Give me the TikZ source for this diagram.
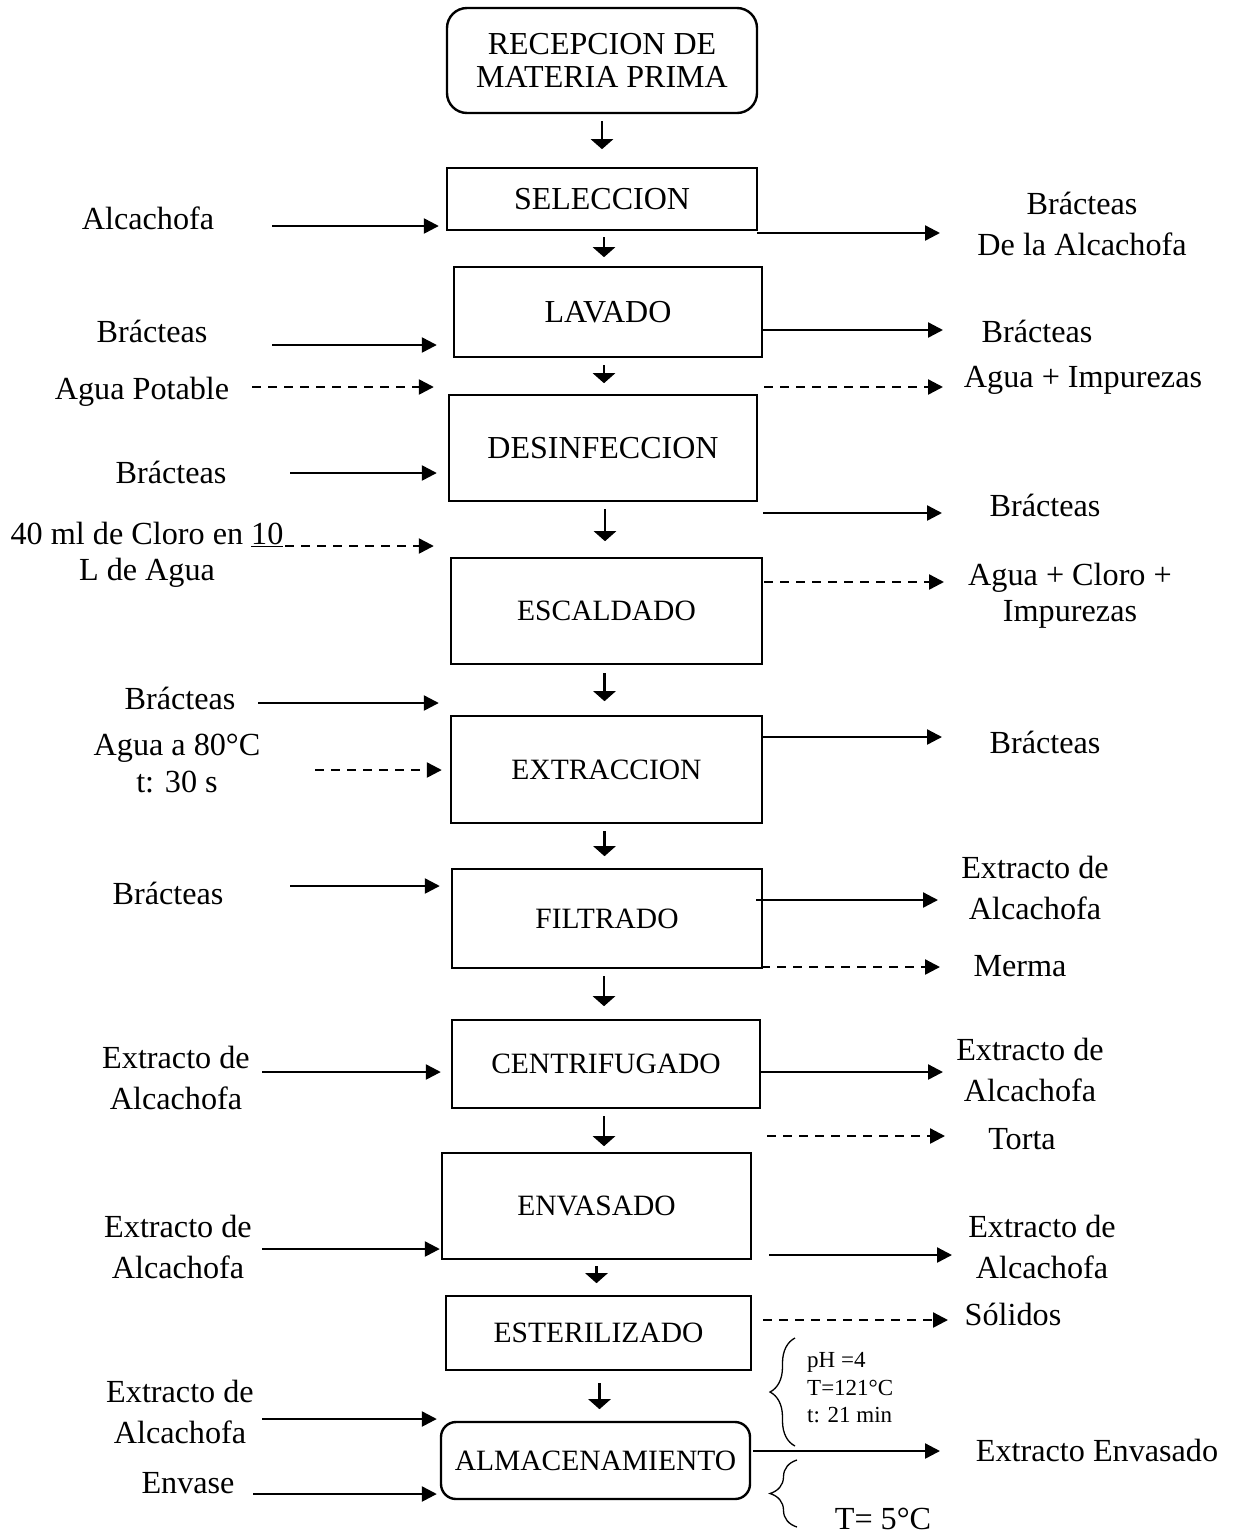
\documentclass[tikz,border=0pt]{standalone}
\usepackage{fontspec}
\setmainfont{Liberation Serif}
\usetikzlibrary{arrows.meta,decorations.pathreplacing}

\begin{document}
\begin{tikzpicture}[x=1pt,y=-1pt,
  box/.style={draw,line width=2.4pt,inner sep=0pt,align=center,
    font=\fontsize{29.5}{33}\selectfont},
  bigbox/.style={box,font=\fontsize{32}{33}\selectfont},
  lbl/.style={inner sep=0pt,align=center,font=\fontsize{32.2}{38}\selectfont},
  lblB/.style={lbl,font=\fontsize{32.2}{41}\selectfont},
  note/.style={inner sep=0pt,align=left,anchor=west,font=\fontsize{23}{27.5}\selectfont},
  arr/.style={line width=2.4pt,-{Triangle[length=15pt,width=15pt]}},
  darr/.style={arr,dash pattern=on 9pt off 7pt},
  dn/.style={line width=2.8pt,-{Triangle[length=10pt,width=22pt]}},
  brc/.style={line width=1.3pt,decorate,decoration={brace,amplitude=#1}},
]
\useasboundingbox (0,0) rectangle (1237,1535);

% process boxes
\node[bigbox,rounded corners=20pt,minimum width=310pt,minimum height=105pt] (rec) at (602,60.5) {RECEPCION DE\\MATERIA PRIMA};
\node[bigbox,minimum width=310pt,minimum height=62pt] (sel) at (602,199) {SELECCION};
\node[bigbox,minimum width=308pt,minimum height=90pt] (lav) at (608,312) {LAVADO};
\node[bigbox,minimum width=308pt,minimum height=106pt] (des) at (603,448) {DESINFECCION};
\node[box,minimum width=311pt,minimum height=106pt] (esc) at (606.5,611) {ESCALDADO};
\node[box,minimum width=311pt,minimum height=107pt] (ext) at (606.5,769.5) {EXTRACCION};
\node[box,minimum width=310pt,minimum height=99pt] (fil) at (607,918.5) {FILTRADO};
\node[box,minimum width=308pt,minimum height=88pt] (cen) at (606,1064) {CENTRIFUGADO};
\node[box,minimum width=309pt,minimum height=106pt] (env) at (596.5,1206) {ENVASADO};
\node[box,minimum width=305pt,minimum height=74pt] (est) at (598.5,1333) {ESTERILIZADO};
\node[box,rounded corners=15pt,minimum width=309pt,minimum height=77pt] (alm) at (595.5,1460.5) {ALMACENAMIENTO};

% short arrows between stages
\draw[dn] ([yshift=-7pt]rec.south) -- ([yshift=-35pt]rec.south);
\draw[dn] ([xshift=2pt,yshift=-6pt]sel.south) -- ([xshift=2pt,yshift=-26pt]sel.south);
\draw[dn] ([xshift=-4pt,yshift=-7pt]lav.south) -- ([xshift=-4pt,yshift=-25pt]lav.south);
\draw[dn] ([xshift=2pt,yshift=-7pt]des.south) -- ([xshift=2pt,yshift=-39pt]des.south);
\draw[dn] ([xshift=-2pt,yshift=-8pt]esc.south) -- ([xshift=-2pt,yshift=-36pt]esc.south);
\draw[dn] ([xshift=-2pt,yshift=-7pt]ext.south) -- ([xshift=-2pt,yshift=-32pt]ext.south);
\draw[dn] ([xshift=-3pt,yshift=-7pt]fil.south) -- ([xshift=-3pt,yshift=-37pt]fil.south);
\draw[dn] ([xshift=-2pt,yshift=-7pt]cen.south) -- ([xshift=-2pt,yshift=-37pt]cen.south);
\draw[dn] ([yshift=-6pt]env.south) -- ([yshift=-23pt]env.south);
\draw[dn] ([xshift=1pt,yshift=-12pt]est.south) -- ([xshift=1pt,yshift=-38pt]est.south);

% inputs on the left
\node[lbl] (iA) at (148,218) {Alcachofa};
\node[lbl] (iB) at (152,331) {Brácteas};
\node[lbl] (iC) at (142,392) {Agua Potable};
\node[lbl] (iD) at (171,472) {Brácteas};
\node[lblB,font=\fontsize{32.2}{36}\selectfont] (iE) at (147,555) {40 ml de Cloro en \underline{10}\\L de Agua};
\node[lbl] (iF) at (180,698) {Brácteas};
\node[lblB,font=\fontsize{32.2}{37}\selectfont] (iG) at (177,763.5) {Agua a 80°C\\t: 30 s};
\node[lbl] (iH) at (168,893) {Brácteas};
\node[lblB] (iI) at (176,1077.5) {Extracto de\\Alcachofa};
\node[lblB] (iJ) at (178,1246.5) {Extracto de\\Alcachofa};
\node[lblB] (iK) at (180,1412) {Extracto de\\Alcachofa};
\node[lbl] (iL) at (188,1483) {Envase};

\coordinate (a1) at (272,226);
\coordinate (a2) at (272,345);
\coordinate (a3) at (252,387);
\coordinate (a4) at (290,473);
\coordinate (a5) at (285,546);
\coordinate (a6) at (258,703);
\coordinate (a7) at (315,770);
\coordinate (a8) at (290,886);
\coordinate (a9) at (262,1072);
\coordinate (a10) at (262,1249);
\coordinate (a11) at (262,1419);
\coordinate (a12) at (253,1494);

\draw[arr,shorten >=7pt] (a1) -- (a1 -| sel.west);
\draw[arr,shorten >=16pt] (a2) -- (a2 -| lav.west);
\draw[darr,shorten >=14pt] (a3) -- (a3 -| des.west);
\draw[arr,shorten >=11pt] (a4) -- (a4 -| des.west);
\draw[darr,shorten >=16pt] (a5) -- (a5 -| esc.west);
\draw[arr,shorten >=11pt] (a6) -- (a6 -| ext.west);
\draw[darr,shorten >=8pt] (a7) -- (a7 -| ext.west);
\draw[arr,shorten >=11pt] (a8) -- (a8 -| fil.west);
\draw[arr,shorten >=10pt] (a9) -- (a9 -| cen.west);
\draw[arr,shorten >=1pt] (a10) -- (a10 -| env.west);
\draw[arr,shorten >=3pt] (a11) -- (a11 -| alm.west);
\draw[arr,shorten >=3pt] (a12) -- (a12 -| alm.west);

% outputs on the right
\node[lblB] (oA) at (1082,224) {Brácteas\\De la Alcachofa};
\node[lbl] (oB) at (1037,331) {Brácteas};
\node[lbl] (oC) at (1083,380) {Agua + Impurezas};
\node[lbl] (oD) at (1045,505) {Brácteas};
\node[lblB,font=\fontsize{32.2}{36}\selectfont] (oE) at (1070,596) {Agua + Cloro +\\Impurezas};
\node[lbl] (oF) at (1045,742) {Brácteas};
\node[lblB] (oG) at (1035,888) {Extracto de\\Alcachofa};
\node[lbl] (oH) at (1020,966) {Merma};
\node[lblB] (oI) at (1030,1069.5) {Extracto de\\Alcachofa};
\node[lbl] (oJ) at (1022,1139) {Torta};
\node[lblB] (oK) at (1042,1247) {Extracto de\\Alcachofa};
\node[lbl] (oL) at (1013,1314) {Sólidos};
\node[lbl] (oM) at (1097,1450) {Extracto Envasado};

\coordinate (b1) at (940,233);
\coordinate (b2) at (943,330);
\coordinate (b3) at (943,387);
\coordinate (b4) at (942,513);
\coordinate (b5) at (944,582);
\coordinate (b6) at (942,737);
\coordinate (b7) at (938,900);
\coordinate (b8) at (940,967);
\coordinate (b9) at (943,1072);
\coordinate (b10) at (945,1136);
\coordinate (b11) at (952,1255);
\coordinate (b12) at (948,1320);
\coordinate (b13) at (940,1451);

\draw[arr,shorten <=-1pt] (b1 -| sel.east) -- (b1);
\draw[arr] (b2 -| lav.east) -- (b2);
\draw[darr,shorten <=1pt] (b3 -| lav.east) -- (b3);
\draw[arr] (b4 -| esc.east) -- (b4);
\draw[darr,shorten <=1pt] (b5 -| esc.east) -- (b5);
\draw[arr] (b6 -| ext.east) -- (b6);
\draw[arr,shorten <=-7pt] (b7 -| fil.east) -- (b7);
\draw[darr,shorten <=-2pt] (b8 -| fil.east) -- (b8);
\draw[arr] (b9 -| cen.east) -- (b9);
\draw[darr,shorten <=6pt] (b10 -| cen.east) -- (b10);
\draw[arr,shorten <=17pt] (b11 -| env.east) -- (b11);
\draw[darr,shorten <=11pt] (b12 -| est.east) -- (b12);
\draw[arr,shorten <=2pt] (b13 -| alm.east) -- (b13);

% operating conditions
\coordinate (k1) at (795,1446);
\coordinate (k2) at (795,1338);
\coordinate (k3) at (797,1527);
\coordinate (k4) at (797,1460);
\draw[brc=25pt] (k1) -- (k2);
\draw[brc=27pt] (k3) -- (k4);
\node[note] (cA) at (807,1388) {pH =4\\T=121°C\\t: 21 min};
\node[lbl] (cB) at (883,1519) {T= 5°C};
\end{tikzpicture}
\end{document}
